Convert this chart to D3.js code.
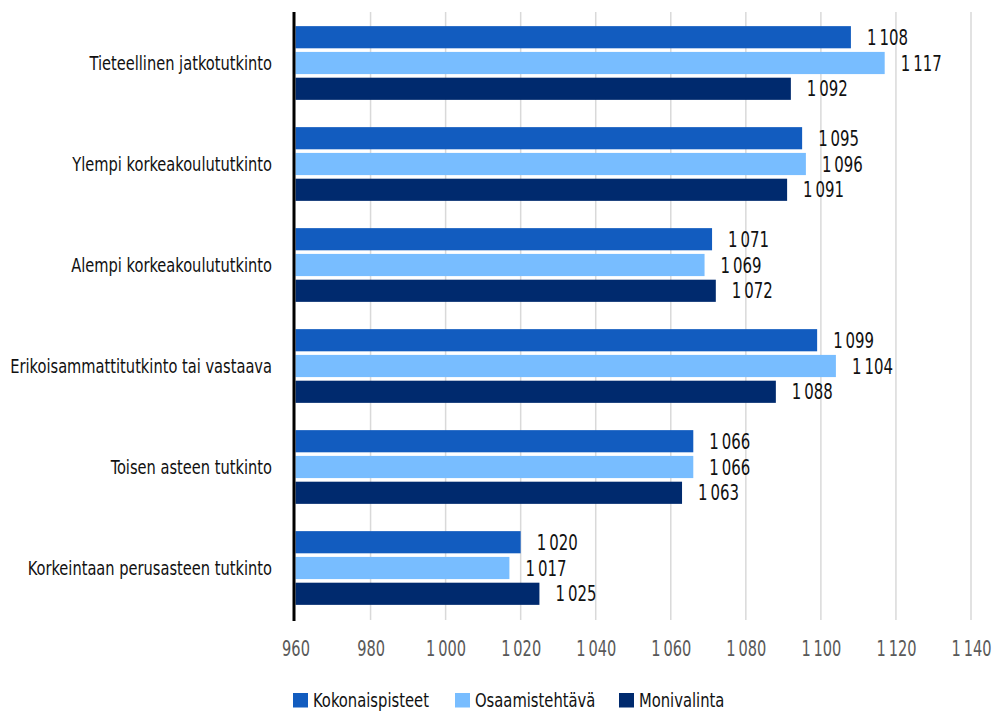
<!DOCTYPE html>
<html><head><meta charset="utf-8">
<script src="https://cdn.jsdelivr.net/npm/d3@7"></script>
<style>
body{margin:0;background:#fff;}
svg text{font-family:"Liberation Sans Narrow","DejaVu Sans Condensed","Open Sans",sans-serif;}
</style></head>
<body><svg id="c" width="993" height="711"></svg>
<script>
const categories = ["Tieteellinen jatkotutkinto","Ylempi korkeakoulututkinto","Alempi korkeakoulututkinto","Erikoisammattitutkinto tai vastaava","Toisen asteen tutkinto","Korkeintaan perusasteen tutkinto"];
const seriesNames = ["Kokonaispisteet","Osaamistehtävä","Monivalinta"];
const kokonaispisteet = [1108,1095,1071,1099,1066,1020];
const osaamistehtava = [1117,1096,1069,1104,1066,1017];
const monivalinta = [1092,1091,1072,1088,1063,1025];
const tickValues = [960,980,1000,1020,1040,1060,1080,1100,1120,1140];
const colors = ["#125CBF","#78BDFF","#002A6E"];

const seriesVals = [kokonaispisteet, osaamistehtava, monivalinta];
const svg = d3.select("#c");
const fmt = v => { const s = String(v); return s.length>3 ? s.slice(0,s.length-3)+"\u2009"+s.slice(-3) : s; };

function measure(txt, fs){
  const t = svg.append("text").attr("font-size",fs).text(txt);
  const w = t.node().getComputedTextLength(); t.remove(); return w;
}
// font sizes and horizontal compression to mimic a condensed font
const FS_CAT = 20, FS_VAL = 21, FS_TICK = 20.5, FS_LEG = 20;
const kCat = 262 / measure("Erikoisammattitutkinto tai vastaava", FS_CAT);
const kVal = 41 / measure(fmt(1108), FS_VAL);
const kTick = 40 / measure(fmt(1000), FS_TICK);
const kLeg = 116 / measure("Kokonaispisteet", FS_LEG);

const x = d3.scaleLinear().domain([960,1140]).range([295.5,971]);
const y = d3.scaleBand().domain(categories).range([12.5,618.5]).paddingInner(0.27).paddingOuter(0.135);
const y1 = d3.scaleBand().domain(seriesNames).range([0,y.bandwidth()]).paddingInner(0.14);

function label(parent, px, py, txt, anchor, fill, kk, fs){
  const gg = parent.append("g").attr("transform",`translate(${px},${py}) scale(${kk},1)`);
  gg.append("text").attr("x",0).attr("y",0).attr("dy","0.36em").attr("text-anchor",anchor)
    .attr("font-size",fs).attr("fill",fill).text(txt);
  return gg;
}

// gridlines
svg.append("g").selectAll("line").data(tickValues.slice(1)).join("line")
  .attr("x1",d=>x(d)).attr("x2",d=>x(d)).attr("y1",12).attr("y2",620)
  .attr("stroke","#d9d9d9").attr("stroke-width",1.5);

// bars
const g = svg.append("g");
categories.forEach((c,i)=>{
  seriesNames.forEach((s,j)=>{
    const v = seriesVals[j][i];
    g.append("rect").attr("x",x(960)).attr("y",y(c)+y1(s))
      .attr("width",x(v)-x(960)).attr("height",y1.bandwidth()).attr("fill",colors[j]);
    label(g, x(v)+16, y(c)+y1(s)+y1.bandwidth()/2, fmt(v), "start", "#111", kVal, FS_VAL);
  });
});

// category labels
const cg = svg.append("g");
categories.forEach(c=>label(cg, 272, y(c)+y.bandwidth()/2, c, "end", "#111", kCat, FS_CAT));

// x axis
const xa = svg.append("g").attr("transform","translate(0,620)")
  .call(d3.axisBottom(x).tickValues(tickValues).tickSize(0).tickPadding(0).tickFormat(fmt));
xa.select(".domain").remove();
xa.selectAll("text").attr("font-size",FS_TICK).attr("fill","#595959")
  .attr("y",28.5).attr("dy","0.36em")
  .attr("font-family","'Liberation Sans Narrow','DejaVu Sans Condensed',sans-serif")
  .attr("transform",`scale(${kTick},1)`);

// y axis line
svg.append("line").attr("x1",294).attr("x2",294).attr("y1",12).attr("y2",621)
  .attr("stroke","#000").attr("stroke-width",3);

// legend
const legX = [293,455,619];
const leg = svg.append("g");
seriesNames.forEach((s,j)=>{
  leg.append("rect").attr("x",legX[j]).attr("y",693).attr("width",15).attr("height",14.5).attr("fill",colors[j]);
  label(leg, legX[j]+20, 700, s, "start", "#111", kLeg, FS_LEG);
});
</script></body></html>
